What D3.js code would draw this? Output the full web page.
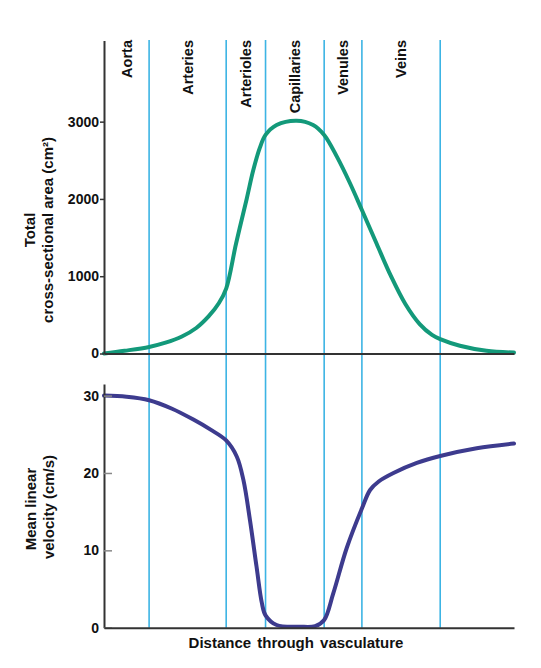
<!DOCTYPE html>
<html>
<head>
<meta charset="utf-8">
<script src="https://cdn.jsdelivr.net/npm/d3@7"></script>
<style>
  body { margin: 0; background: #fff; }
  text { font-family: "Liberation Sans", Arial, sans-serif; font-weight: bold; fill: #111; }
</style>
</head>
<body>
<script>
//vessel segments and where they end along the distance axis (0-100)
var segments = ["Aorta", "Arteries", "Arterioles", "Capillaries", "Venules", "Veins"];
var boundaries = [11, 29.8, 39.4, 53.7, 62.9, 82];

//total cross-sectional area (cm2)
var areaDist = [0, 5, 11, 15, 19, 22.5, 25.5, 28, 29.8, 32.2, 34.8, 36.4, 38, 39.4, 42.1, 47, 51, 53.7, 56.8, 60, 62.9, 66.5, 70, 73.5, 77, 80, 82, 86.8, 93.3, 100];
var areaVals = [0, 35, 85, 140, 220, 330, 480, 650, 840, 1420, 2000, 2370, 2660, 2828, 2957, 3013, 2957, 2828, 2547, 2203, 1857, 1420, 1000, 640, 380, 240, 185, 100, 35, 12];
var areaTicks = [0, 1000, 2000, 3000];

//mean linear velocity (cm/s)
var velDist = [0, 5.5, 11, 16.6, 21.8, 26, 29.8, 32.4, 34, 35.6, 37.2, 38.5, 39.4, 42.1, 47.8, 51.5, 53.7, 55.9, 59.2, 62.9, 64.9, 67, 70.6, 76.3, 82, 90.9, 100];
var velVals = [30, 29.85, 29.4, 28.3, 26.9, 25.6, 24.2, 22.1, 19.1, 13.9, 7.9, 3.2, 1.6, 0.35, 0.13, 0.2, 1.0, 4.4, 10.3, 15.4, 17.8, 18.9, 20.0, 21.3, 22.2, 23.2, 23.8];
var velTicks = [0, 10, 20, 30];

var w = 541;
var h = 668;

var svg = d3.select("body")
    .append("svg")
    .attr("width", w)
    .attr("height", h);

var x = d3.scaleLinear().domain([0, 100]).range([104, 514]);
var yTop = d3.scaleLinear().domain([0, 4050]).range([353.5, 40.5]);
var yBot = d3.scaleLinear().domain([0, 31.5]).range([627.7, 384]);

//blue dividers run through both panels
svg.selectAll(".divider")
    .data(boundaries)
    .enter()
    .append("line")
    .attr("class", "divider")
    .attr("x1", function(d) { return x(d); })
    .attr("x2", function(d) { return x(d); })
    .attr("y1", 40)
    .attr("y2", yBot(0))
    .attr("stroke", "#3cb4e4")
    .attr("stroke-width", 1.6);

//segment names, centred between dividers
var starts = [0].concat(boundaries.slice(0, -1));
svg.selectAll(".segLabel")
    .data(segments)
    .enter()
    .append("text")
    .attr("class", "segLabel")
    .attr("transform", function(d, i) {
        return "translate(" + x((starts[i] + boundaries[i]) / 2) + ",40) rotate(-90)";
    })
    .attr("dy", "0.36em")
    .attr("text-anchor", "end")
    .style("font-size", "14.5px")
    .text(function(d) { return d; });

//curves
var areaLine = d3.line()
    .x(function(d, i) { return x(areaDist[i]); })
    .y(function(d) { return yTop(d); })
    .curve(d3.curveCatmullRom.alpha(0.5));

var velLine = d3.line()
    .x(function(d, i) { return x(velDist[i]); })
    .y(function(d) { return yBot(d); })
    .curve(d3.curveCatmullRom.alpha(0.5));

svg.append("path")
    .datum(areaVals)
    .attr("d", areaLine)
    .attr("fill", "none")
    .attr("stroke", "#13997a")
    .attr("stroke-width", 4)
    .attr("stroke-linecap", "round");

svg.append("path")
    .datum(velVals)
    .attr("d", velLine)
    .attr("fill", "none")
    .attr("stroke", "#3d3b8e")
    .attr("stroke-width", 4)
    .attr("stroke-linecap", "round");

//axes
var topAxis = svg.append("g")
    .attr("transform", "translate(104,0)")
    .call(d3.axisLeft(yTop).tickValues(areaTicks).tickFormat(d3.format("d"))
        .tickSize(4).tickSizeOuter(0).tickPadding(1));

var botAxis = svg.append("g")
    .attr("transform", "translate(104,0)")
    .call(d3.axisLeft(yBot).tickValues(velTicks).tickFormat(d3.format("d"))
        .tickSize(-8).tickSizeOuter(0).tickPadding(5));
botAxis.selectAll(".tick line").attr("stroke", "#888").attr("stroke-width", 1.5);

svg.append("g")
    .attr("transform", "translate(0," + yTop(0) + ")")
    .call(d3.axisBottom(x).tickValues([]).tickSizeOuter(0));

svg.append("g")
    .attr("transform", "translate(0," + yBot(0) + ")")
    .call(d3.axisBottom(x).tickValues([]).tickSizeOuter(0));

svg.selectAll(".domain").attr("stroke", "#333").attr("stroke-width", 2);
topAxis.selectAll(".tick line").attr("stroke", "#333").attr("stroke-width", 1.5);
svg.selectAll(".tick text")
    .style("font-size", "14px")
    .style("font-family", "'Liberation Sans', Arial, sans-serif")
    .style("font-weight", "bold")
    .attr("fill", "#111");

//axis titles
var titles = [
    { t: "Total", x: 30, y: 230 },
    { t: "cross-sectional area (cm\u00B2)", x: 48, y: 230 },
    { t: "Mean linear", x: 31, y: 509 },
    { t: "velocity (cm/s)", x: 49, y: 507 }
];
svg.selectAll(".yTitle")
    .data(titles)
    .enter()
    .append("text")
    .attr("class", "yTitle")
    .attr("transform", function(d) { return "translate(" + d.x + "," + d.y + ") rotate(-90)"; })
    .attr("dy", "0.36em")
    .attr("text-anchor", "middle")
    .style("font-size", "15px")
    .text(function(d) { return d.t; });

svg.append("text")
    .attr("x", 296)
    .attr("y", 648)
    .attr("text-anchor", "middle")
    .style("font-size", "15px")
    .style("word-spacing", "2px")
    .text("Distance through vasculature");
</script>
</body>
</html>
